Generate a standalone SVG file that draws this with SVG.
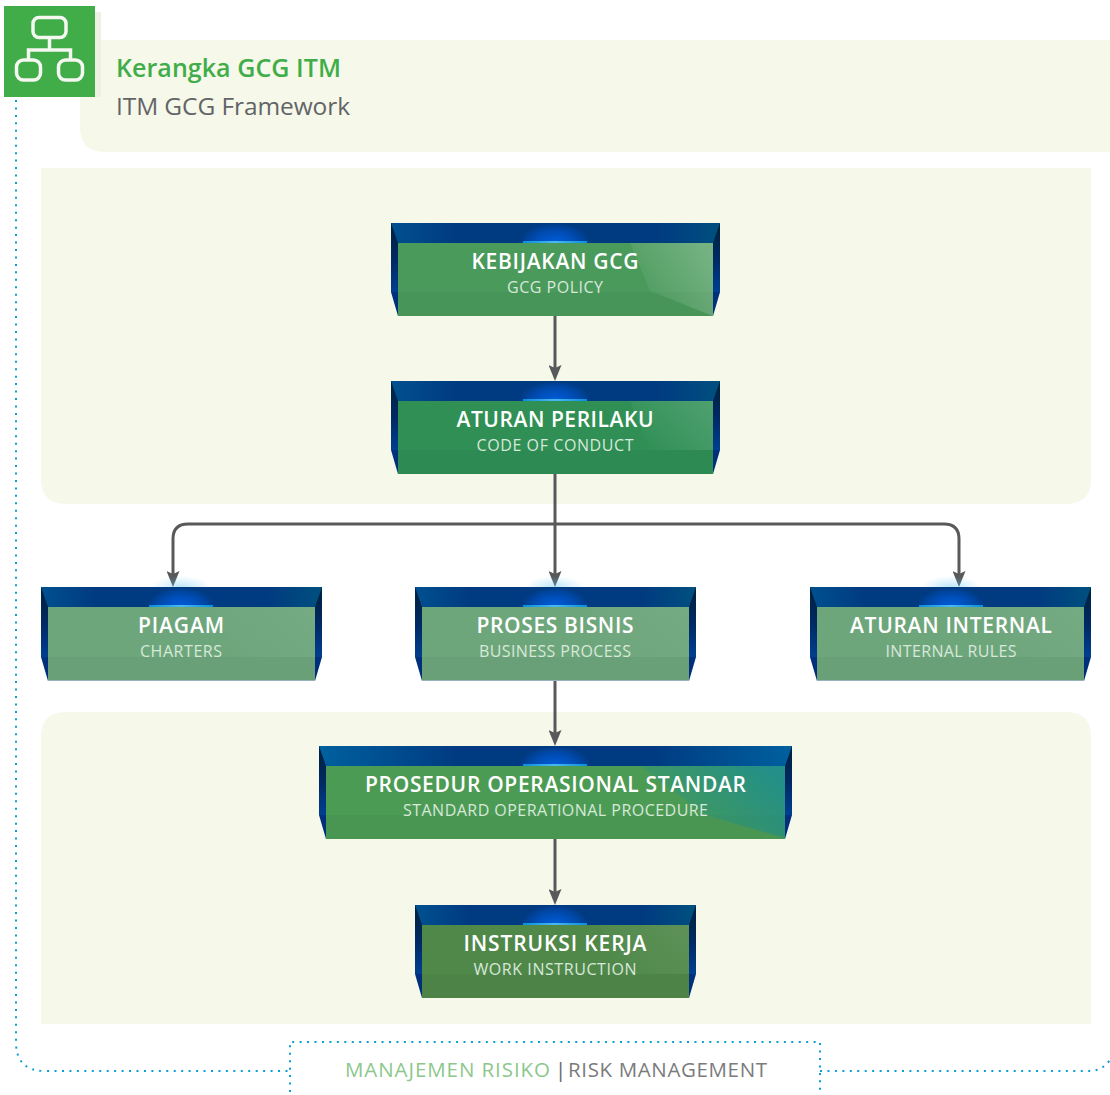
<svg xmlns="http://www.w3.org/2000/svg" width="1110" height="1095" viewBox="0 0 1110 1095">
<style>
.panel{fill:#f6f8ea}
.band{fill:url(#bandG)}
.bandS{fill:url(#bandS)}
.sideU{fill:url(#sideG)}
.sideL{fill:#00307c}
.glow{fill:url(#glowG)}
.halo{fill:url(#haloG)}
.strip{fill:url(#stripG)}
.shade{fill:#000;opacity:.03}
.hi{fill:url(#hiG)}
.t{font-family:"Open Sans","Noto Sans",sans-serif;font-size:21px;font-weight:600;fill:#fff;text-anchor:middle}
.s{font-family:"Open Sans","Noto Sans",sans-serif;font-size:16px;fill:#d8e8da;text-anchor:middle}
.conn{fill:none;stroke:#58595b;stroke-width:3}
.dot{fill:none;stroke:#0aa0d4;stroke-width:2;stroke-dasharray:2 5.45}
.h1{font-family:"Open Sans","Noto Sans",sans-serif;font-size:25px;font-weight:600;fill:#41ad49}
.h2{font-family:"Open Sans","Noto Sans",sans-serif;font-size:24.500px;fill:#636466}
.f{font-family:"Open Sans","Noto Sans",sans-serif;font-size:20.500px}
</style>
<defs>
<linearGradient id="bandG" x1="0" x2="1" y1="0" y2="0"><stop offset="0" stop-color="#00508f"/><stop offset=".2" stop-color="#003a80"/><stop offset=".8" stop-color="#003a80"/><stop offset="1" stop-color="#00507f"/></linearGradient>
<linearGradient id="bandS" x1="0" x2="1" y1="0" y2="0"><stop offset="0" stop-color="#00609f"/><stop offset=".3" stop-color="#003a80"/><stop offset=".7" stop-color="#003a80"/><stop offset="1" stop-color="#00609f"/></linearGradient>
<linearGradient id="sideG" x1="0" x2="0" y1="0" y2="1"><stop offset="0" stop-color="#00203a"/><stop offset=".55" stop-color="#002a66"/><stop offset="1" stop-color="#003f90"/></linearGradient>
<radialGradient id="glowG"><stop offset="0" stop-color="#0060e0"/><stop offset=".5" stop-color="#0054c8" stop-opacity=".8"/><stop offset="1" stop-color="#0058d8" stop-opacity="0"/></radialGradient>
<radialGradient id="haloG"><stop offset="0" stop-color="#5cc4f0" stop-opacity=".4"/><stop offset="1" stop-color="#5cc4f0" stop-opacity="0"/></radialGradient>
<linearGradient id="stripG" x1="0" x2="1" y1="0" y2="0"><stop offset="0" stop-color="#0a8ee0"/><stop offset=".5" stop-color="#4cb8f0"/><stop offset="1" stop-color="#0a8ee0"/></linearGradient>
<linearGradient id="hiG" x1="0" x2="1" y1=".75" y2=".2"><stop offset="0" stop-color="#fff" stop-opacity="0"/><stop offset="1" stop-color="#fff" stop-opacity=".24"/></linearGradient>
<linearGradient id="hiT" x1="0" x2="1" y1=".75" y2=".2"><stop offset="0" stop-color="#0e8a9a" stop-opacity="0"/><stop offset="1" stop-color="#108a9e" stop-opacity=".7"/></linearGradient>
<marker id="arrow" markerUnits="userSpaceOnUse" markerWidth="16" markerHeight="13" viewBox="0 0 16 13" refX="6" refY="6.5" orient="auto"><path d="M0 0L16 6.500L0 13L3 6.500Z" fill="#58595b"/></marker>
</defs>

<g id="background">
<path class="panel" d="M80 40H1110V152H105Q80 152 80 127Z"/>
<path class="panel" d="M41 168H1091V479Q1091 504 1066 504H66Q41 504 41 479Z"/>
<path class="panel" d="M66 712H1066Q1091 712 1091 737V1024H41V737Q41 712 66 712Z"/>
</g>

<g id="risk-border">
<path class="dot" d="M16 100V1042Q16 1071 45 1071H290"/>
<path class="dot" d="M290 1092V1042H820V1092"/>
<path class="dot" d="M820 1071H1090Q1102 1071 1110 1060"/>
<text class="f" x="345" y="1077" fill="#8cc78b" textLength="205">MANAJEMEN RISIKO</text>
<text class="f" x="555" y="1077" fill="#636466">|</text>
<text class="f" x="568" y="1077" fill="#7a7b7d" textLength="199">RISK MANAGEMENT</text>
</g>

<g id="header">
<rect x="95" y="12" width="6" height="85" fill="#eef0e4"/>
<rect x="4" y="6" width="91" height="91" fill="#41ad49"/>
<g fill="none" stroke="#f4f8f0" stroke-width="3.5">
<rect x="33" y="17.500" width="33" height="20" rx="6"/>
<rect x="16.500" y="60" width="24" height="20" rx="7"/>
<rect x="58.500" y="60" width="24" height="20" rx="7"/>
<path d="M49.500 37.500V50M28.500 60V50H70.500V60"/>
</g>
<text class="h1" x="116" y="77" textLength="225">Kerangka GCG ITM</text>
<text class="h2" x="116" y="115" textLength="234">ITM GCG Framework</text>
</g>

<g id="connectors">
<path class="conn" marker-end="url(#arrow)" d="M555 316V371"/>
<path class="conn" marker-end="url(#arrow)" d="M555 474V577"/>
<path class="conn" marker-end="url(#arrow)" d="M555 524H188Q173 524 173 539V577"/>
<path class="conn" marker-end="url(#arrow)" d="M555 524H944Q959 524 959 539V577"/>
<path class="conn" marker-end="url(#arrow)" d="M555 681V736"/>
<path class="conn" marker-end="url(#arrow)" d="M555 839V895"/>
</g>

<g id="node-kebijakan">
<rect class="band" x="391" y="223" width="329" height="21"/>
<ellipse class="glow" cx="555" cy="243" rx="36" ry="20"/>
<polygon class="sideU" points="391,223 398,243 398,292 391,292"/><polygon class="sideU" points="720,223 713,243 713,292 720,292"/>
<polygon class="sideL" points="391,292 398,292 398,316"/><polygon class="sideL" points="720,292 713,292 713,316"/>
<rect class="strip" x="523" y="241" width="64" height="2"/>
<rect x="398" y="243" width="315" height="73" fill="#4a9a5c"/>
<rect class="shade" x="398" y="292" width="315" height="24"/>
<polygon class="hi" points="630,243 713,243 713,316 650,291"/>
<text class="t" x="555" y="269" textLength="167">KEBIJAKAN GCG</text>
<text class="s" x="555" y="293" textLength="96">GCG POLICY</text>
</g>

<g id="node-aturan-perilaku">
<rect class="band" x="391" y="381" width="329" height="21"/>
<ellipse class="glow" cx="555" cy="401" rx="36" ry="20"/>
<polygon class="sideU" points="391,381 398,401 398,450 391,450"/><polygon class="sideU" points="720,381 713,401 713,450 720,450"/>
<polygon class="sideL" points="391,450 398,450 398,474"/><polygon class="sideL" points="720,450 713,450 713,474"/>
<rect class="strip" x="523" y="399" width="64" height="2"/>
<rect x="398" y="401" width="315" height="73" fill="#2f8f55"/>
<rect class="shade" x="398" y="450" width="315" height="24"/>
<polygon class="hi" points="630,401 713,401 713,450 650,450" opacity=".6"/>
<text class="t" x="555" y="427" textLength="197">ATURAN PERILAKU</text>
<text class="s" x="555" y="451" textLength="157">CODE OF CONDUCT</text>
</g>

<g id="node-piagam">
<ellipse class="halo" cx="181" cy="587" rx="30" ry="11"/>
<rect class="band" x="41" y="587" width="281" height="21"/>
<ellipse class="glow" cx="181" cy="607" rx="34" ry="20"/>
<polygon class="sideU" points="41,587 48,607 48,657 41,657"/><polygon class="sideU" points="322,587 315,607 315,657 322,657"/>
<polygon class="sideL" points="41,657 48,657 48,681"/><polygon class="sideL" points="322,657 315,657 315,681"/>
<rect class="strip" x="149" y="605" width="64" height="2"/>
<rect x="48" y="607" width="267" height="73" fill="#6ea67c"/>
<rect x="48" y="680" width="267" height="1" fill="#9db8c4"/>
<rect class="shade" x="48" y="657" width="267" height="24"/>
<polygon class="hi" points="215,607 315,607 315,657 235,657" opacity=".2"/>
<text class="t" x="181" y="633" textLength="86">PIAGAM</text>
<text class="s" x="181" y="657" textLength="82">CHARTERS</text>
</g>

<g id="node-proses-bisnis">
<ellipse class="halo" cx="555" cy="587" rx="30" ry="11"/>
<rect class="band" x="415" y="587" width="281" height="21"/>
<ellipse class="glow" cx="555" cy="607" rx="34" ry="20"/>
<polygon class="sideU" points="415,587 422,607 422,657 415,657"/><polygon class="sideU" points="696,587 689,607 689,657 696,657"/>
<polygon class="sideL" points="415,657 422,657 422,681"/><polygon class="sideL" points="696,657 689,657 689,681"/>
<rect class="strip" x="523" y="605" width="64" height="2"/>
<rect x="422" y="607" width="267" height="73" fill="#6ea67c"/>
<rect x="422" y="680" width="267" height="1" fill="#9db8c4"/>
<rect class="shade" x="422" y="657" width="267" height="24"/>
<polygon class="hi" points="590,607 689,607 689,657 610,657" opacity=".2"/>
<text class="t" x="555" y="633" textLength="157">PROSES BISNIS</text>
<text class="s" x="555" y="657" textLength="152">BUSINESS PROCESS</text>
</g>

<g id="node-aturan-internal">
<ellipse class="halo" cx="951" cy="587" rx="30" ry="11"/>
<rect class="band" x="810" y="587" width="281" height="21"/>
<ellipse class="glow" cx="951" cy="607" rx="34" ry="20"/>
<polygon class="sideU" points="810,587 817,607 817,657 810,657"/><polygon class="sideU" points="1091,587 1084,607 1084,657 1091,657"/>
<polygon class="sideL" points="810,657 817,657 817,681"/><polygon class="sideL" points="1091,657 1084,657 1084,681"/>
<rect class="strip" x="919" y="605" width="64" height="2"/>
<rect x="817" y="607" width="267" height="73" fill="#6ea67c"/>
<rect x="817" y="680" width="267" height="1" fill="#9db8c4"/>
<rect class="shade" x="817" y="657" width="267" height="24"/>
<polygon class="hi" points="985,607 1084,607 1084,657 1005,657" opacity=".2"/>
<text class="t" x="951" y="633" textLength="202">ATURAN INTERNAL</text>
<text class="s" x="951" y="657" textLength="131">INTERNAL RULES</text>
</g>

<g id="node-prosedur">
<rect class="bandS" x="319" y="746" width="473" height="21"/>
<ellipse class="glow" cx="555" cy="766" rx="36" ry="20"/>
<polygon class="sideU" points="319,746 326,766 326,815 319,815"/><polygon class="sideU" points="792,746 785,766 785,815 792,815"/>
<polygon class="sideL" points="319,815 326,815 326,839"/><polygon class="sideL" points="792,815 785,815 785,839"/>
<rect class="strip" x="523" y="764" width="64" height="2"/>
<rect x="326" y="766" width="459" height="73" fill="#4c9b55"/>
<rect class="shade" x="326" y="815" width="459" height="24"/>
<polygon fill="url(#hiT)" points="640,766 785,766 785,838 705,815"/>
<text class="t" x="555.500" y="792" textLength="381">PROSEDUR OPERASIONAL STANDAR</text>
<text class="s" x="555.500" y="816" textLength="305">STANDARD OPERATIONAL PROCEDURE</text>
</g>

<g id="node-instruksi">
<rect class="band" x="415" y="905" width="281" height="21"/>
<ellipse class="glow" cx="555" cy="925" rx="34" ry="20"/>
<polygon class="sideU" points="415,905 422,925 422,974 415,974"/><polygon class="sideU" points="696,905 689,925 689,974 696,974"/>
<polygon class="sideL" points="415,974 422,974 422,998"/><polygon class="sideL" points="696,974 689,974 689,998"/>
<rect class="strip" x="523" y="923" width="64" height="2"/>
<rect x="422" y="925" width="267" height="73" fill="#50884a"/>
<rect class="shade" x="422" y="974" width="267" height="24"/>
<polygon class="hi" points="600,925 689,925 689,974 620,974" opacity=".3"/>
<text class="t" x="555" y="951" textLength="183">INSTRUKSI KERJA</text>
<text class="s" x="555" y="975" textLength="163">WORK INSTRUCTION</text>
</g>
</svg>
